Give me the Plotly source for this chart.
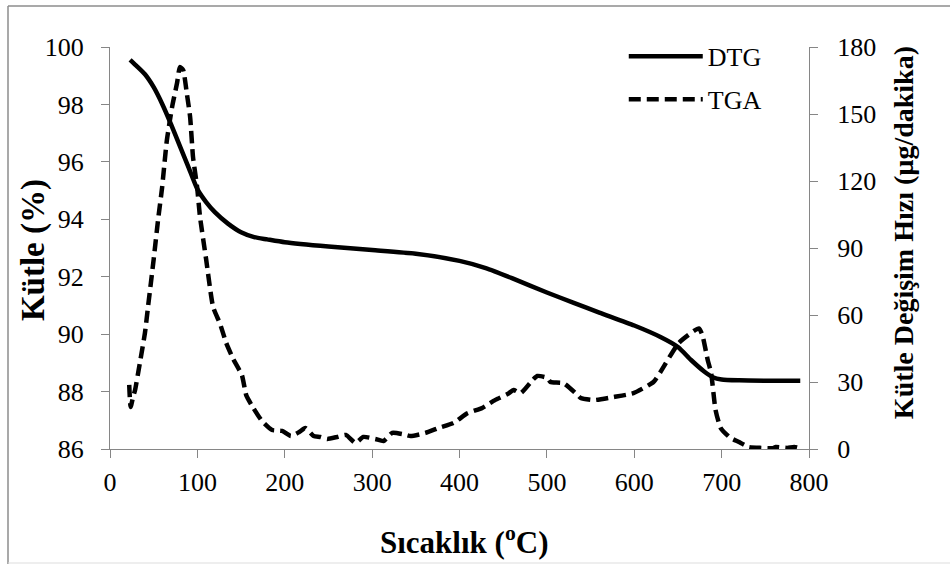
import plotly.graph_objects as go

# Solid curve (left axis, Kütle %)
dtg_temp = [23, 30, 40, 50, 60, 70, 80, 90, 100, 110, 120, 135, 150, 165, 180, 200, 250, 300, 350,
            400, 430, 460, 500, 530, 560, 600, 630, 650, 665, 680, 690, 700, 720, 750, 790]
dtg_mass = [99.55, 99.35, 99.05, 98.6, 98.0, 97.3, 96.55, 95.8, 95.05, 94.6, 94.25, 93.85, 93.55,
            93.38, 93.3, 93.2, 93.05, 92.93, 92.8, 92.55, 92.3, 91.95, 91.45, 91.1, 90.75, 90.3,
            89.9, 89.55, 89.1, 88.7, 88.5, 88.42, 88.39, 88.38, 88.38]

# Dashed curve (right axis, µg/dakika)
tga_temp = [22, 23.6, 26.4, 28.7, 34.4, 40, 43.5, 50, 55, 59.6, 65, 71, 76.8, 80, 83.7, 88, 91.7,
            95, 99.7, 103, 110, 118, 126, 133, 141, 151, 156, 164, 174, 185.5, 197, 207, 216.5,
            223.5, 233, 240.7, 248.7, 260, 270, 281, 290, 303.7, 313, 323, 334.7, 344, 361, 376,
            393, 409, 426, 441, 455, 462, 470, 483.7, 489, 500.6, 504, 519, 535, 538.7, 553.6,
            576.5, 599, 622, 630, 651, 674, 678, 684, 688, 693, 699, 710, 720, 731, 745, 759, 762,
            775, 783, 793]
tga_rate = [28.7, 18.8, 23.3, 26.4, 39, 52, 63.6, 85, 102.6, 117, 138, 153, 164, 171, 169.7, 159,
            148.7, 130.8, 117.3, 104, 85, 63.6, 56, 47.5, 40.3, 33, 24, 18.4, 12.5, 8.5, 8.1, 5.8,
            7.6, 9.4, 5.8, 5.4, 4.5, 5.4, 6.3, 2.7, 5.4, 4.5, 3.6, 7.2, 6.7, 5.8, 7.2, 9.4, 11.6,
            16, 18.4, 22, 24.6, 26.4, 25, 30.9, 32.7, 31.8, 30, 29.5, 24.2, 22.8, 21.9, 23.3, 25,
            30, 34.5, 47.5, 54, 51, 40, 34, 17.5, 9.4, 5, 3.1, 0.9, 0.5, 0.4, 0.9, 0.5, 0.9, 0]

x_ticks = [0, 100, 200, 300, 400, 500, 600, 700, 800]
left_ticks = [86, 88, 90, 92, 94, 96, 98, 100]
right_ticks = [0, 30, 60, 90, 120, 150, 180]

FONT = "Liberation Serif"
AX = "#868686"

fig = go.Figure()
fig.add_trace(go.Scatter(x=dtg_temp, y=dtg_mass, mode="lines", name="DTG",
                         line=dict(color="black", width=4.5, shape="spline", smoothing=0.6),
                         legendgroup="a"))
fig.add_trace(go.Scatter(x=tga_temp, y=tga_rate, mode="lines", name="TGA", yaxis="y2",
                         line=dict(color="black", width=4.5, dash="12px,6px", shape="spline",
                                   smoothing=0.5),
                         legendgroup="b"))

axis_common = dict(showgrid=False, zeroline=False, showline=True, linecolor=AX, linewidth=1,
                   ticks="outside", tickcolor=AX, ticklen=8, tickwidth=1,
                   tickfont=dict(family=FONT, size=26, color="black"))

fig.update_layout(
    width=950, height=564,
    margin=dict(l=110, r=141, t=47, b=115),
    paper_bgcolor="white", plot_bgcolor="white",
    font=dict(family=FONT, color="black"),
    xaxis=dict(range=[0, 800], tickvals=x_ticks, ticklabelstandoff=2, **axis_common),
    yaxis=dict(range=[86, 100], tickvals=left_ticks, ticklabelstandoff=12, **axis_common),
    yaxis2=dict(range=[0, 180], tickvals=right_ticks, overlaying="y", side="right",
                ticklabelstandoff=14, **axis_common),
    showlegend=True,
    legend=dict(x=0.735, y=1.035, xanchor="left", yanchor="top", bgcolor="rgba(0,0,0,0)",
                font=dict(family=FONT, size=26, color="black"), tracegroupgap=6,
                itemwidth=74),
    annotations=[
        dict(text="Sıcaklık (<sup>o</sup>C)", xref="paper", yref="paper", x=0.5064, y=-0.2264,
             xanchor="center", yanchor="middle", showarrow=False,
             font=dict(family=FONT, size=31, color="black", weight="bold")),
        dict(text="Kütle (%)", xref="paper", yref="paper", x=-0.110, y=0.495, textangle=-90,
             xanchor="center", yanchor="middle", showarrow=False,
             font=dict(family=FONT, size=33, color="black", weight="bold")),
        dict(text="Kütle Değişim Hızı (µg/dakika)", xref="paper", yref="paper", x=1.1345,
             y=0.537, textangle=-90, xanchor="center", yanchor="middle", showarrow=False,
             font=dict(family=FONT, size=28, color="black", weight="bold")),
    ],
    shapes=[
        dict(type="line", xref="paper", yref="paper", x0=(8 - 110) / 699, x1=(960 - 110) / 699,
             y0=(449 - 6) / 402, y1=(449 - 6) / 402, line=dict(color="#8c8c8c", width=1.5)),
        dict(type="line", xref="paper", yref="paper", x0=(8 - 110) / 699, x1=(8 - 110) / 699,
             y0=(449 - 6) / 402, y1=(449 - 570) / 402, line=dict(color="#8c8c8c", width=1.5)),
        dict(type="line", xref="paper", yref="paper", x0=(8 - 110) / 699, x1=(960 - 110) / 699,
             y0=(449 - 563) / 402, y1=(449 - 563) / 402, line=dict(color="#dddddd", width=1)),
    ],
)

fig.write_html("out.html")
